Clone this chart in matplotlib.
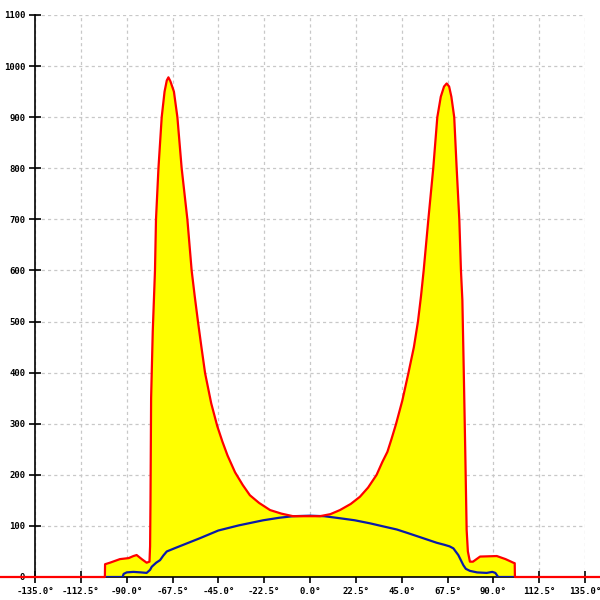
import matplotlib
matplotlib.use("Agg")
import matplotlib.pyplot as plt

# red curve (yellow filled), angle in degrees
red_x = [-155, -100.7, -100.6, -98.2, -93.3, -89.0, -86.7, -85.1, -82.6, -80.2, -78.8,
         -78.5, -78.3, -78.0, -77.2, -76.1, -75.6, -74.4, -72.8, -71.4, -70.3, -69.5,
         -68.5, -66.8, -65.1, -63.0, -60.2, -58.1, -56.6, -55.0, -53.3, -51.5,
         -48.5, -45.5, -43.0, -40.5, -36.8, -33.0, -29.5, -25.0, -19.6, -14.0, -8.3,
         0.0, 4.9, 10.0, 14.7, 20.0, 24.5, 28.5, 32.7, 35.5, 38.0, 40.0, 42.2, 45.3,
         48.3, 51.0, 53.0, 54.5, 55.8, 58.1, 60.5, 62.5, 64.2, 65.8, 67.1, 68.3, 69.4,
         70.8, 72.0, 73.3, 74.1, 74.8, 75.5, 76.2, 76.9, 77.5, 78.5, 80.0, 83.5, 91.7,
         96.0, 99.8, 100.5, 100.6, 145]
red_y = [0, 0, 25, 28, 35, 37, 41, 43, 35, 28, 30,
         60, 150, 350, 480, 600, 700, 800, 900, 950, 972, 978,
         970, 950, 900, 800, 700, 600, 550, 500, 450, 399,
         340, 295, 265, 238, 205, 180, 160, 145, 131, 124, 119,
         119, 119, 123, 131, 143, 157, 175, 200, 225, 245, 270, 299, 345,
         399, 450, 500, 550, 600, 700, 800, 900, 940, 960, 966, 960, 940,
         900, 800, 700, 600, 542, 400, 250, 92, 50, 30, 30, 40, 41,
         35, 28, 27, 0, 0]

# blue curve
blue_x = [-100.6, -92.0, -91.5, -90.0, -86.7, -83.0, -80.2, -78.5, -77.7, -75.5, -73.6,
          -72.0, -70.3, -66.0, -62.2, -54.0, -45.0, -35.0, -23.0, -15.0, -8.3, 0.0,
          7.0, 14.7, 22.0, 29.5, 36.0, 42.6, 48.0, 54.0, 62.2, 66.0, 68.5, 70.4, 71.5,
          72.8, 75.3, 76.5, 78.5, 82.0, 86.7, 89.5, 91.0, 92.0, 92.5, 100.6]
blue_y = [0, 0, 6, 9, 10, 9, 8, 14, 20, 28, 33,
          42, 50, 57, 63, 76, 91, 101, 111, 116, 119, 120,
          119, 115, 111, 105, 99, 93, 86, 78, 67, 63, 60, 56, 50,
          43, 23, 16, 12, 9, 8, 10, 8, 2, 0, 0]

x_ticks = [-135, -112.5, -90, -67.5, -45, -22.5, 0, 22.5, 45, 67.5, 90, 112.5, 135]
y_ticks = list(range(0, 1101, 100))

fig = plt.figure(figsize=(6, 6), dpi=100)
ax = fig.add_axes([35 / 600, 23 / 600, 550 / 600, 562 / 600])

ax.fill_between(red_x, red_y, 0, color="#ffff00", lw=0, zorder=1)
ax.plot(blue_x, blue_y, color="#0a1aa8", lw=1.6, zorder=3)
ax.plot(red_x, red_y, color="#ff0000", lw=1.6, zorder=4, clip_on=False)

ax.set_xlim(-135, 135)
ax.set_ylim(0, 1100)
ax.set_xticks(x_ticks)
ax.set_xticklabels(["%.1f°" % v for v in x_ticks])
ax.set_yticks(y_ticks)
ax.set_yticklabels([str(v) for v in y_ticks])

for s in ["top", "right"]:
    ax.spines[s].set_visible(False)
ax.spines["left"].set_linewidth(1.2)
ax.spines["bottom"].set_linewidth(1.2)

ax.tick_params(direction="inout", length=8, width=1.2, labelsize=6.5, pad=3)
for lab in ax.get_xticklabels() + ax.get_yticklabels():
    lab.set_family("DejaVu Sans Mono")
    lab.set_fontweight("bold")

ax.grid(True, color="#c8c8c8", linestyle=(0, (2.5, 2.5)), linewidth=0.9)
ax.set_axisbelow(True)

fig.savefig("out.png", dpi=100)
